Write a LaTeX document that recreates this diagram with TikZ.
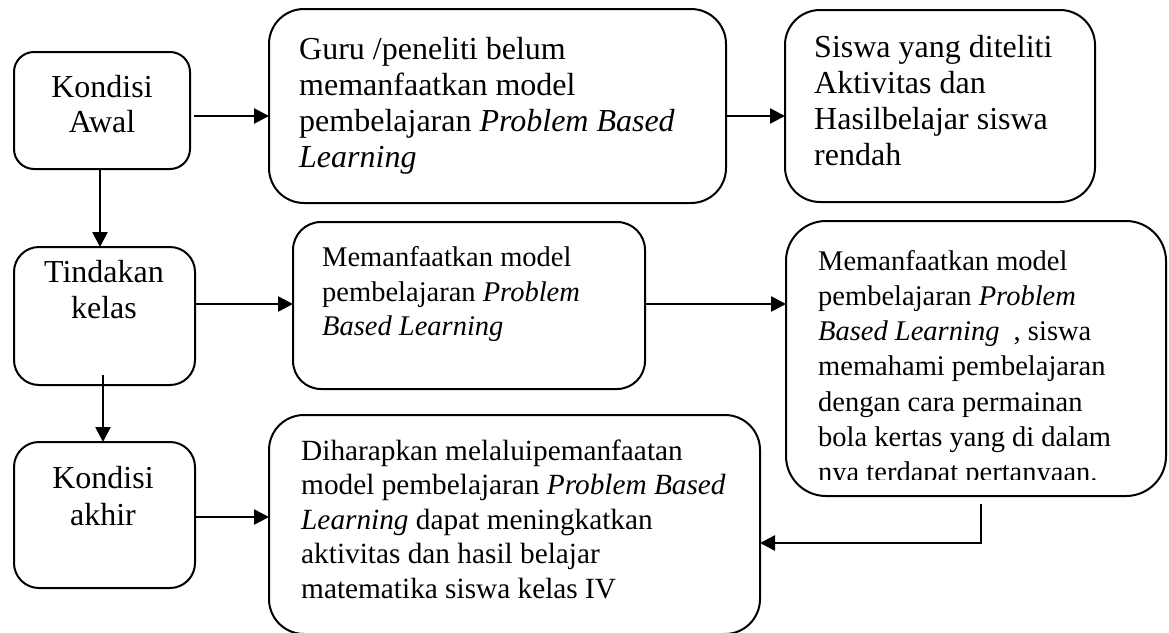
\documentclass[tikz,border=0pt]{standalone}
\usepackage{fontspec}
\setmainfont{Liberation Serif}
\usetikzlibrary{arrows.meta,calc}
\begin{document}
\begin{tikzpicture}[x=1pt,y=-1pt,
  boxn/.style={draw, line width=2pt, inner sep=0pt, outer sep=0pt},
  arr/.style={line width=2.6pt, -{Triangle[length=15pt,width=15pt]}},
  big/.style={inner sep=0pt, font=\fontsize{32}{36}\selectfont},
  med/.style={inner sep=0pt, anchor=base west, font=\fontsize{28.5}{35}\selectfont},
  hmed/.style={inner sep=0pt, anchor=base west, font=\fontsize{29.3}{35}\selectfont},
  bigl/.style={big, anchor=base west},
  bigc/.style={big, anchor=base}]
\useasboundingbox (0,0) rectangle (1169,632);
% boxes
\node[boxn, rounded corners=20pt, minimum width=176pt, minimum height=117pt] (b1) at (102,110.5) {};
\node[boxn, rounded corners=35pt, minimum width=457pt, minimum height=194pt] (b2) at (497.5,106) {};
\node[boxn, rounded corners=35pt, minimum width=310pt, minimum height=192pt] (b3) at (940,106) {};
\node[boxn, rounded corners=25pt, minimum width=181pt, minimum height=138pt] (b4) at (104.5,316) {};
\node[boxn, rounded corners=28pt, minimum width=352pt, minimum height=167pt] (b5) at (469,305.5) {};
\node[boxn, rounded corners=40pt, minimum width=380pt, minimum height=275pt] (b6) at (976,358.5) {};
\node[boxn, rounded corners=35pt, minimum width=491pt, minimum height=219pt] (b7) at (514.5,524.5) {};
\node[boxn, rounded corners=25pt, minimum width=181pt, minimum height=146pt] (b8) at (104.5,515) {};
% texts
\node[bigc] (t11) at (102,97) {Kondisi};
\node[bigc] (t12) at (102,132) {Awal};
\node[bigl] (t21) at (299,59) {Guru /peneliti belum};
\node[bigl] (t22) at (299,95) {memanfaatkan model};
\node[bigl] (t23) at (299,131) {pembelajaran \textit{Problem Based}};
\node[bigl] (t24) at (299,167) {\textit{Learning}};
\node[bigl] (t31) at (814,57) {Siswa yang diteliti};
\node[bigl] (t32) at (814,93) {Aktivitas dan};
\node[bigl] (t33) at (814,129) {Hasilbelajar siswa};
\node[bigl] (t34) at (814,165) {rendah};
\node[bigc] (t41) at (104,282) {Tindakan};
\node[bigc] (t42) at (104,318) {kelas};
\node[med] (t51) at (322,266.5) {Memanfaatkan model};
\node[med] (t52) at (322,301) {pembelajaran \textit{Problem}};
\node[med] (t53) at (322,335.5) {\textit{Based Learning}};
\begin{scope}
\clip (780,215) rectangle (1169,479);
\node[med] (t61) at (818,270) {Memanfaatkan model};
\node[med] (t62) at (818,305.3) {pembelajaran \textit{Problem}};
\node[med] (t63) at (818,340.6) {\textit{Based Learning}\ \ , siswa};
\node[med] (t64) at (818,375.9) {memahami pembelajaran};
\node[med] (t65) at (818,411.2) {dengan cara permainan};
\node[med] (t66) at (818,446.5) {bola kertas yang di dalam};
\node[med] (t67) at (818,481.8) {nya terdapat pertanyaan.};
\end{scope}
\node[hmed] (t71) at (301,460) {Diharapkan melaluipemanfaatan};
\node[hmed] (t72) at (301,494.5) {model pembelajaran \textit{Problem Based}};
\node[hmed] (t73) at (301,529) {\textit{Learning} dapat meningkatkan};
\node[hmed] (t74) at (301,563.5) {aktivitas dan hasil belajar};
\node[hmed] (t75) at (301,598) {matematika siswa kelas IV};
\node[bigc] (t81) at (103,488) {Kondisi};
\node[bigc] (t82) at (103,525) {akhir};
% connectors
\draw[arr] ($(b1.east)+(4,5.5)$) coordinate (a1s) -- (a1s -| b2.west);
\draw[arr] ($(b2.east)+(0,10)$) coordinate (a2s) -- (a2s -| b3.west);
\draw[arr] ($(b1.south)+(-2,0)$) coordinate (a3s) -- (a3s |- b4.north);
\draw[arr] ($(b4.east)+(0,-12)$) coordinate (a4s) -- (a4s -| b5.west);
\draw[arr] ($(b5.east)+(0,-1.5)$) coordinate (a5s) -- (a5s -| b6.west);
\draw[arr] ($(b4.south)+(-1.5,-10)$) coordinate (a6s) -- (a6s |- b8.north);
\draw[arr] ($(b8.east)+(0,2)$) coordinate (a7s) -- (a7s -| b7.west);
\draw[arr] ($(b6.south)+(5,8)$) coordinate (a8s) -- ($(a8s)+(0,39)$) coordinate (a8c) -- (a8c -| b7.east);
\end{tikzpicture}
\end{document}
